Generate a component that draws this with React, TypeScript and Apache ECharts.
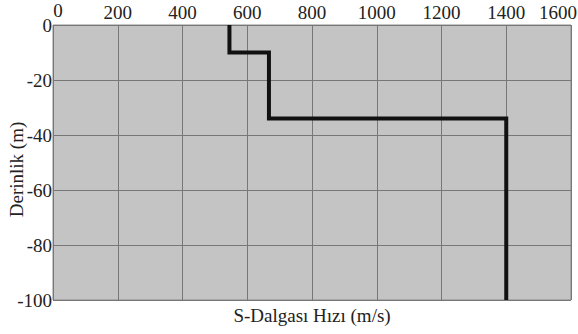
import React, { useEffect, useRef } from "react";
import * as echarts from "echarts";

const velocity = [545, 545, 667, 667, 1400, 1400];
const depth = [0, -10, -10, -34, -34, -100];
const xTitle = "S-Dalgası Hızı (m/s)";
const yTitle = "Derinlik (m)";

export default function App() {
  const ref = useRef<HTMLDivElement>(null);
  useEffect(() => {
    const chart = echarts.init(ref.current!, null, { renderer: "svg" });
    const txt = { fontSize: 19, color: "#222" };
    chart.setOption({
      animation: false,
      textStyle: { fontFamily: "Times New Roman" },
      grid: {
        left: 53,
        right: 7,
        top: 25,
        bottom: 34,
        containLabel: false,
        outerBoundsMode: "none",
        show: true,
        backgroundColor: "#c4c4c4",
        borderColor: "#8a8a8a",
        borderWidth: 1,
      },
      xAxis: {
        type: "value",
        position: "top",
        min: 0,
        max: 1600,
        interval: 200,
        axisLine: { show: false },
        axisTick: { show: false },
        axisLabel: {
          margin: 3,
          ...txt,
          formatter: (v: number) =>
            v === 1600 ? "{r|1600}" : v === 0 ? "{z|0}" : String(v),
          rich: {
            r: { ...txt, padding: [0, 26, 0, 0] },
            z: { ...txt, padding: [0, 0, 2, 10] },
          },
        },
        splitLine: { show: true, lineStyle: { color: "#777", width: 1 } },
      },
      yAxis: {
        type: "value",
        min: -100,
        max: 0,
        interval: 20,
        name: yTitle,
        nameLocation: "middle",
        nameGap: 27,
        nameMoveOverlap: false,
        nameTextStyle: { ...txt, padding: [0, 14, 0, 0] },
        axisLine: { show: false },
        axisTick: { show: false },
        axisLabel: { margin: 1, ...txt },
        splitLine: { show: true, lineStyle: { color: "#777", width: 1 } },
      },
      graphic: [
        {
          type: "text",
          x: 312,
          y: 306,
          style: {
            text: xTitle,
            fontFamily: "Times New Roman",
            fontSize: 19,
            fill: "#222",
            align: "center",
          },
        },
      ],
      series: [
        {
          type: "line",
          data: velocity.map((v, i) => [v, depth[i]]),
          showSymbol: false,
          symbol: "none",
          lineStyle: { color: "#111", width: 4, join: "miter", cap: "butt" },
        },
      ],
    });
    return () => chart.dispose();
  }, []);
  return (
    <div
      ref={ref}
      style={{ position: "absolute", left: 0, top: 0, width: 578, height: 334 }}
    />
  );
}
